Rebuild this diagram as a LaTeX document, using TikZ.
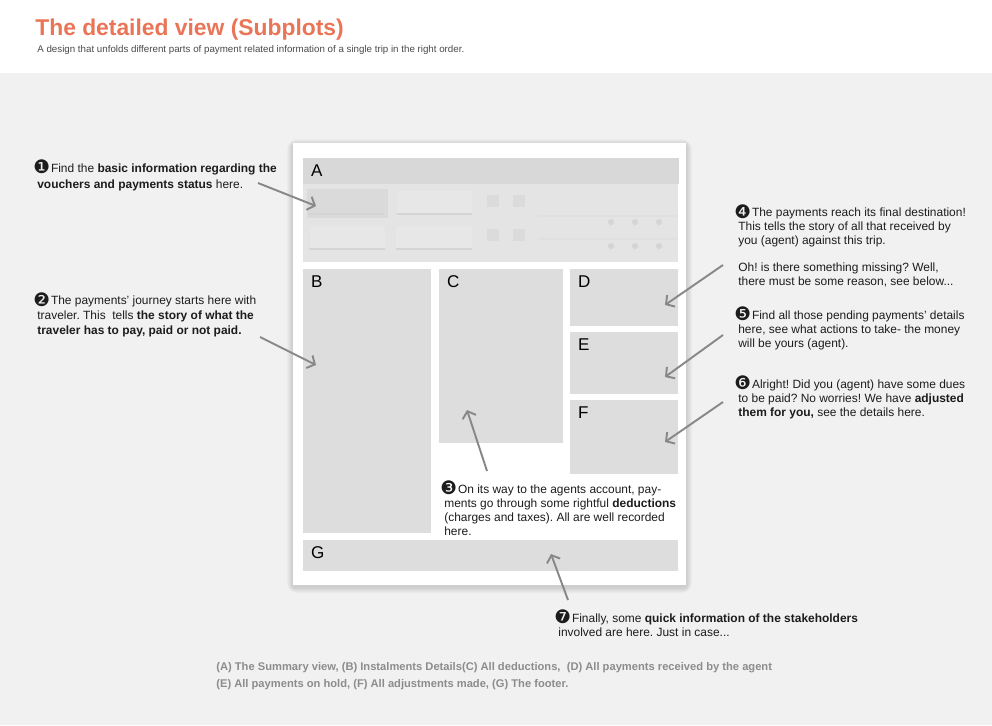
\documentclass[tikz,border=0pt]{standalone}
\usepackage{fontspec}
\setmainfont{Liberation Sans}
\newfontfamily\dejavu{DejaVu Sans}
\usetikzlibrary{arrows.meta,positioning,calc}
\definecolor{titleorange}{RGB}{233,117,86}
\definecolor{bggray}{RGB}{241,241,241}
\definecolor{panelgray}{RGB}{221,221,221}
\definecolor{bandgray}{RGB}{216,216,216}
\definecolor{bodygray}{RGB}{228,228,228}
\definecolor{arrowgray}{RGB}{136,136,136}
\definecolor{inkgray}{RGB}{28,28,28}
\definecolor{footgray}{RGB}{140,140,140}
\newcommand{\nb}[1]{\kern-2.2pt\raisebox{-0.9pt}{\dejavu\fontsize{10.6}{10}\selectfont#1}\kern-1.4pt\relax}
\frenchspacing

\begin{document}
\begin{tikzpicture}[x=0.02cm, y=-0.02cm, >={Straight Barb[length=3.5pt,width=8pt]},
  panel/.style={fill=panelgray, anchor=north west, inner sep=0pt},
  lettr/.style={anchor=north west, inner sep=0pt, font=\fontsize{9.7}{10}\selectfont},
  note/.style={anchor=base west, align=left, inner sep=0pt, text=inkgray, font=\fontsize{6.8}{7.9}\selectfont},
  pointer/.style={->, draw=arrowgray, line width=1.1pt}]
  \useasboundingbox (0,0) rectangle (992,725);
  \fill[bggray] (0,73) rectangle (992,725);
  \node[anchor=base west, inner sep=0pt, text=titleorange, font=\bfseries\fontsize{13}{13}\selectfont] (title) at (35,35) {The detailed view (Subplots)};
  \node[anchor=base west, inner sep=0pt, text=inkgray!80, font=\fontsize{5.55}{6}\selectfont] (sub) at (37,52) {A design that unfolds different parts of payment related information of a single trip in the right order.};
  % the sheet with its soft shadow
  \foreach \d in {1,...,6}
    \fill[black, opacity=0.022, rounded corners=\d pt] (293-\d,143-\d+2) rectangle (686+\d,585+\d+2);
  \node[fill=white, anchor=north west, inner sep=0pt, minimum width=7.86cm, minimum height=8.84cm] (paper) at (293,143) {};
  % panels
  \node[panel, fill=bodygray, minimum width=7.5cm, minimum height=2.08cm] (pA) at (303,158) {};
  \fill[bandgray] (pA.north west) rectangle ($(pA.north east)+(0,26)$);
  \node[panel, minimum width=2.56cm, minimum height=5.28cm] (pB) at (303,269) {};
  \node[panel, minimum width=2.48cm, minimum height=3.48cm] (pC) at (439,269) {};
  \node[panel, minimum width=2.16cm, minimum height=1.14cm] (pD) at (570,269) {};
  \node[panel, minimum width=2.16cm, minimum height=1.24cm] (pE) at (570,332) {};
  \node[panel, minimum width=2.16cm, minimum height=1.48cm] (pF) at (570,400) {};
  \node[panel, minimum width=7.5cm, minimum height=0.62cm] (pG) at (303,540) {};
  \foreach \p in {A,B,C,D,E,F,G}
    \node[lettr, below right=3.6pt and 4.4pt of p\p.north west] (l\p) {\p};
  % summary widgets inside A
  \fill[black!14.5] (307,189) rectangle (388,218);
  \draw[black!11, fill=black!9.3] (396,190) rectangle (472,214) (309,225) rectangle (385,249) (395,225) rectangle (472,249);
  \draw[black!17, line width=0.7pt] (308,214) -- (384,214) (397,214) -- (472,214) (309,249) -- (385,249) (396,249) -- (472,249);
  \draw[black!12, line width=0.6pt] (538,216) -- (678,216) (538,239) -- (678,239);
  \foreach \x in {487,513} \foreach \y in {195,229}
    \fill[black!14] (\x,\y) rectangle ++(12,12);
  \foreach \x in {611,635,659} \foreach \y in {222,246}
    \fill[black!17] (\x,\y) circle (3);
  % notes
  \node[note, font=\fontsize{6.8}{9}\selectfont] (t1) at (37,188) {\nb{❶} Find the \textbf{basic information regarding the}\\\textbf{vouchers and payments status} here.};
  \node[note, font=\fontsize{6.8}{8.4}\selectfont] (t2) at (37,334) {\nb{❷} The payments’ journey starts here with\\traveler. This\ \ tells \textbf{the story of what the}\\\textbf{traveler has to pay, paid or not paid.}};
  \node[note] (t3) at (444,535) {\nb{❸} On its way to the agents account, pay-\\ments go through some rightful \textbf{deductions}\\(charges and taxes). All are well recorded\\here.};
  \node[note] (t4) at (738,285) {\nb{❹} The payments reach its final destination!\\This tells the story of all that received by\\you (agent) against this trip.\\[7.4pt]Oh! is there something missing? Well,\\there must be some reason, see below...};
  \node[note] (t5) at (738,347) {\nb{❺} Find all those pending payments’ details\\here, see what actions to take- the money\\will be yours (agent).};
  \node[note] (t6) at (738,416) {\nb{❻} Alright! Did you (agent) have some dues\\to be paid? No worries! We have \textbf{adjusted}\\\textbf{them for you,} see the details here.};
  \node[note] (t7) at (558,636) {\nb{❼} Finally, some \textbf{quick information of the stakeholders}\\involved are here. Just in case...};
  \node[note, text=footgray, font=\bfseries\fontsize{6.35}{9.6}\selectfont] (foot) at (216,687) {(A) The Summary view, (B) Instalments Details(C) All deductions,\ \ (D) All payments received by the agent\\(E) All payments on hold, (F) All adjustments made, (G) The footer.};
  % pointers
  \coordinate (s1) at (258,183); \coordinate (e1) at (316,206);
  \coordinate (s2) at (260,337); \coordinate (e2) at (316,365);
  \coordinate (s3) at (487,471); \coordinate (e3) at (467,410);
  \coordinate (s4) at (723,265); \coordinate (e4) at (665,305);
  \coordinate (s5) at (723,335); \coordinate (e5) at (665,377);
  \coordinate (s6) at (723,402); \coordinate (e6) at (665,442);
  \coordinate (s7) at (568,600); \coordinate (e7) at (551,554);
  \foreach \i in {1,...,7}
    \draw[pointer] (s\i) -- (e\i);
\end{tikzpicture}
\end{document}
